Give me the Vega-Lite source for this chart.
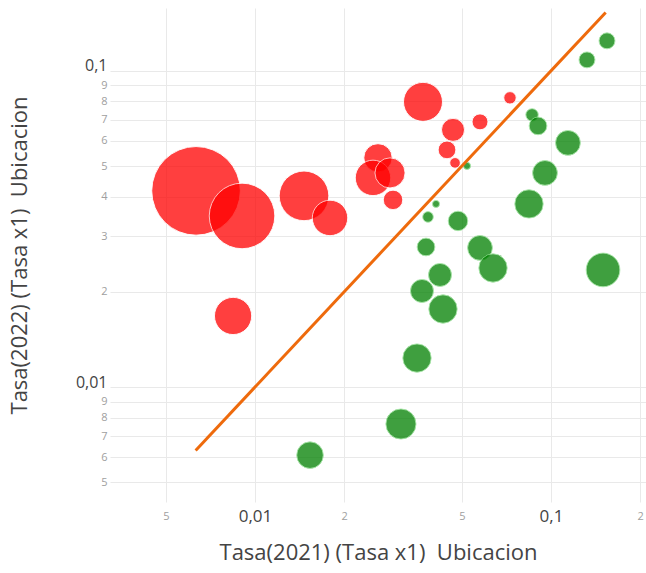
{
  "$schema": "https://vega.github.io/schema/vega-lite/v6.json",
  "width": 536,
  "height": 494,
  "autosize": {"type": "none"},
  "padding": {"left": 110, "top": 8, "right": 0, "bottom": 71},
  "background": "white",
  "config": {
    "view": {"stroke": null},
    "font": "Open Sans",
    "axis": {"grid": true, "gridColor": "#e9e9e9", "gridWidth": 1, "ticks": false, "domain": false, "titleFont": "Open Sans", "labelFont": "Open Sans", "titleFontWeight": "normal", "titleColor": "#444444", "titleFontSize": 22}
  },
  "datasets": {
    "puntos": [
      {"t2021": 0.00632, "t2022": 0.04173, "total": 2500},
      {"t2021": 0.00904, "t2022": 0.03476, "total": 1369},
      {"t2021": 0.01464, "t2022": 0.04023, "total": 784},
      {"t2021": 0.01792, "t2022": 0.03426, "total": 400},
      {"t2021": 0.00843, "t2022": 0.01678, "total": 441},
      {"t2021": 0.02603, "t2022": 0.05306, "total": 256},
      {"t2021": 0.02504, "t2022": 0.04586, "total": 400},
      {"t2021": 0.02858, "t2022": 0.04755, "total": 289},
      {"t2021": 0.02926, "t2022": 0.03907, "total": 121},
      {"t2021": 0.03694, "t2022": 0.07977, "total": 484},
      {"t2021": 0.04666, "t2022": 0.06506, "total": 169},
      {"t2021": 0.04453, "t2022": 0.05623, "total": 100},
      {"t2021": 0.05756, "t2022": 0.06896, "total": 81},
      {"t2021": 0.07268, "t2022": 0.08215, "total": 49},
      {"t2021": 0.0474, "t2022": 0.05116, "total": 36},
      {"t2021": 0.1546, "t2022": 0.1244, "total": 81},
      {"t2021": 0.1323, "t2022": 0.1083, "total": 81},
      {"t2021": 0.0863, "t2022": 0.07257, "total": 49},
      {"t2021": 0.0904, "t2022": 0.06697, "total": 100},
      {"t2021": 0.1141, "t2022": 0.05918, "total": 196},
      {"t2021": 0.09543, "t2022": 0.04755, "total": 196},
      {"t2021": 0.08427, "t2022": 0.03794, "total": 256},
      {"t2021": 0.05202, "t2022": 0.05005, "total": 16},
      {"t2021": 0.04088, "t2022": 0.03794, "total": 16},
      {"t2021": 0.03841, "t2022": 0.03451, "total": 36},
      {"t2021": 0.04851, "t2022": 0.03352, "total": 121},
      {"t2021": 0.03782, "t2022": 0.02773, "total": 100},
      {"t2021": 0.05756, "t2022": 0.02754, "total": 196},
      {"t2021": 0.06369, "t2022": 0.0238, "total": 256},
      {"t2021": 0.1499, "t2022": 0.02346, "total": 361},
      {"t2021": 0.04217, "t2022": 0.02262, "total": 169},
      {"t2021": 0.03665, "t2022": 0.02013, "total": 169},
      {"t2021": 0.04316, "t2022": 0.01765, "total": 256},
      {"t2021": 0.03526, "t2022": 0.01235, "total": 256},
      {"t2021": 0.03112, "t2022": 0.00764, "total": 289},
      {"t2021": 0.01534, "t2022": 0.00609, "total": 225}
    ],
    "linea": [
      {"t2021": 0.0063, "t2022": 0.0063},
      {"t2021": 0.153, "t2022": 0.153}
    ]
  },
  "layer": [
    {
      "data": {"name": "puntos"},
      "mark": {"type": "circle", "opacity": 0.75, "strokeWidth": 1, "strokeOpacity": 0.9},
      "encoding": {
        "x": {
          "field": "t2021", "type": "quantitative",
          "scale": {"type": "log", "domain": [0.003236, 0.2094], "nice": false, "zero": false},
          "axis": {
            "title": "Tasa(2021) (Tasa x1)\u00a0 Ubicacion",
            "values": [0.005, 0.01, 0.02, 0.05, 0.1, 0.2],
            "labelExpr": "datum.value == 0.1 ? '0,1' : datum.value == 0.01 ? '0,01' : '' + round(datum.value / pow(10, floor(log(datum.value) / LN10 + 1e-9)))",
            "labelFontSize": {"condition": {"test": "datum.value == 0.1 || datum.value == 0.01", "value": 17}, "value": 11},
            "labelColor": {"condition": {"test": "datum.value == 0.1 || datum.value == 0.01", "value": "#444444"}, "value": "#a0a0a0"},
            "labelPadding": 14,
            "labelBaseline": "middle",
            "titlePadding": 18
          }
        },
        "y": {
          "field": "t2022", "type": "quantitative",
          "scale": {"type": "log", "domain": [0.00433, 0.158], "nice": false, "zero": false},
          "axis": {
            "title": "Tasa(2022) (Tasa x1)\u00a0 Ubicacion",
            "values": [0.005, 0.006, 0.007, 0.008, 0.009, 0.01, 0.02, 0.03, 0.04, 0.05, 0.06, 0.07, 0.08, 0.09, 0.1],
            "labelExpr": "datum.value == 0.1 ? '0,1' : datum.value == 0.01 ? '0,01' : '' + round(datum.value / pow(10, floor(log(datum.value) / LN10 + 1e-9)))",
            "labelFontSize": {"condition": {"test": "datum.value == 0.1 || datum.value == 0.01", "value": 16}, "value": 11},
            "labelColor": {"condition": {"test": "datum.value == 0.1 || datum.value == 0.01", "value": "#444444"}, "value": "#a0a0a0"},
            "labelBaseline": {"condition": {"test": "datum.value == 0.1 || datum.value == 0.01", "value": "alphabetic"}, "value": "middle"},
            "labelPadding": 3,
            "titlePadding": 44
          }
        },
        "size": {"field": "total", "type": "quantitative", "scale": {"type": "linear", "domain": [0, 2500], "range": [0, 7854]}, "legend": null},
        "color": {
          "condition": {"test": "datum.t2022 > datum.t2021", "value": "#ff0000"},
          "value": "#008000"
        },
        "stroke": {
          "condition": {"test": "datum.t2022 > datum.t2021", "value": "#ffffff"},
          "value": "#90e090"
        }
      }
    },
    {
      "data": {"name": "linea"},
      "mark": {"type": "line", "color": "#ee6a0c", "strokeWidth": 3},
      "encoding": {
        "x": {"field": "t2021", "type": "quantitative"},
        "y": {"field": "t2022", "type": "quantitative"}
      }
    }
  ]
}
